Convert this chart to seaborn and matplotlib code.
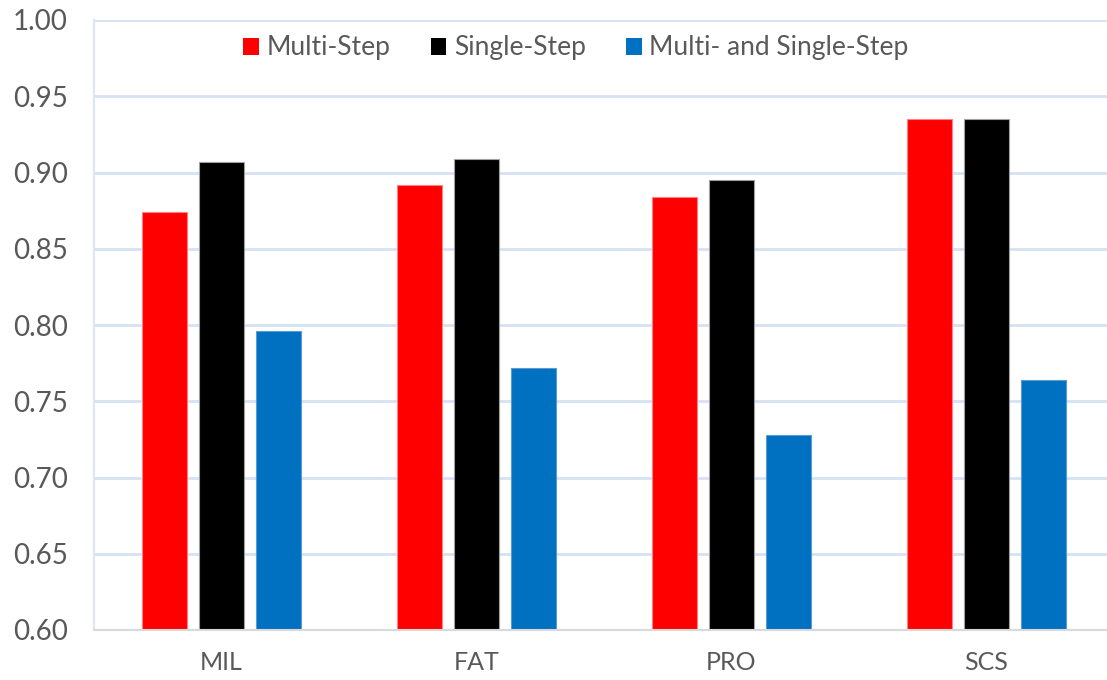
import matplotlib
matplotlib.use("Agg")
import matplotlib.pyplot as plt
import seaborn as sns
import pandas as pd
import numpy as np

categories = ["MIL", "FAT", "PRO", "SCS"]
series_names = ["Multi-Step", "Single-Step", "Multi- and Single-Step"]
multi_step = [0.874, 0.892, 0.884, 0.935]
single_step = [0.907, 0.909, 0.895, 0.935]
multi_and_single = [0.796, 0.772, 0.728, 0.764]
y_ticks = [0.60, 0.65, 0.70, 0.75, 0.80, 0.85, 0.90, 0.95, 1.00]

colors = ["#FF0000", "#000000", "#0070C0"]
edge_colors = ["#FF8080", "#A0A0A0", "#5B9BD5"]

df = pd.DataFrame({
    "category": categories * 3,
    "series": sum([[s] * len(categories) for s in series_names], []),
    "value": multi_step + single_step + multi_and_single,
})

sns.set_theme(style="white")
plt.rcParams["font.family"] = ["Lato", "DejaVu Sans"]

W, H = 1107, 680
fig = plt.figure(figsize=(W / 100, H / 100), dpi=100)
ax = fig.add_axes([94 / W, 50 / H, (1107 - 94) / W, 610 / H])

sns.barplot(data=df, x="category", y="value", hue="series",
            hue_order=series_names, palette=colors, order=categories,
            width=0.67, gap=0.21, ax=ax, legend=False, saturation=1)

for cont, ec in zip(ax.containers, edge_colors):
    for bar in cont:
        bar.set_edgecolor(ec)
        bar.set_linewidth(0.8)

ax.set_ylim(0.60, 1.00)
ax.set_xlim(-0.5, 3.5 - 7 / 255)
ax.set_yticks(y_ticks)
ax.set_yticklabels([f"{v:.2f}" for v in y_ticks])
ax.set_xlabel("")
ax.set_ylabel("")
ax.set_axisbelow(True)
ax.yaxis.grid(True, color="#D6E2F3", linewidth=2)
ax.xaxis.grid(False)
for s in ["top", "right"]:
    ax.spines[s].set_visible(False)
ax.spines["left"].set_color("#DCE6F4")
ax.spines["left"].set_linewidth(1.5)
ax.spines["bottom"].set_color("#D9D9D9")
ax.spines["bottom"].set_linewidth(1.5)
ax.tick_params(axis="both", length=0, colors="#595959")
ax.tick_params(axis="y", pad=19, labelsize=20)
ax.tick_params(axis="x", pad=15, labelsize=18)

handles = [plt.Rectangle((0, 0), 1, 1, facecolor=c, edgecolor="none") for c in colors]
leg = fig.legend(handles, series_names, loc="center", ncol=3,
                 bbox_to_anchor=(576 / W, 1 - 48 / H), frameon=False,
                 fontsize=19, handlelength=0.6, handleheight=0.6,
                 handletextpad=0.3, columnspacing=1.5, labelcolor="#595959")

fig.savefig("out.png", dpi=100, facecolor="white")
